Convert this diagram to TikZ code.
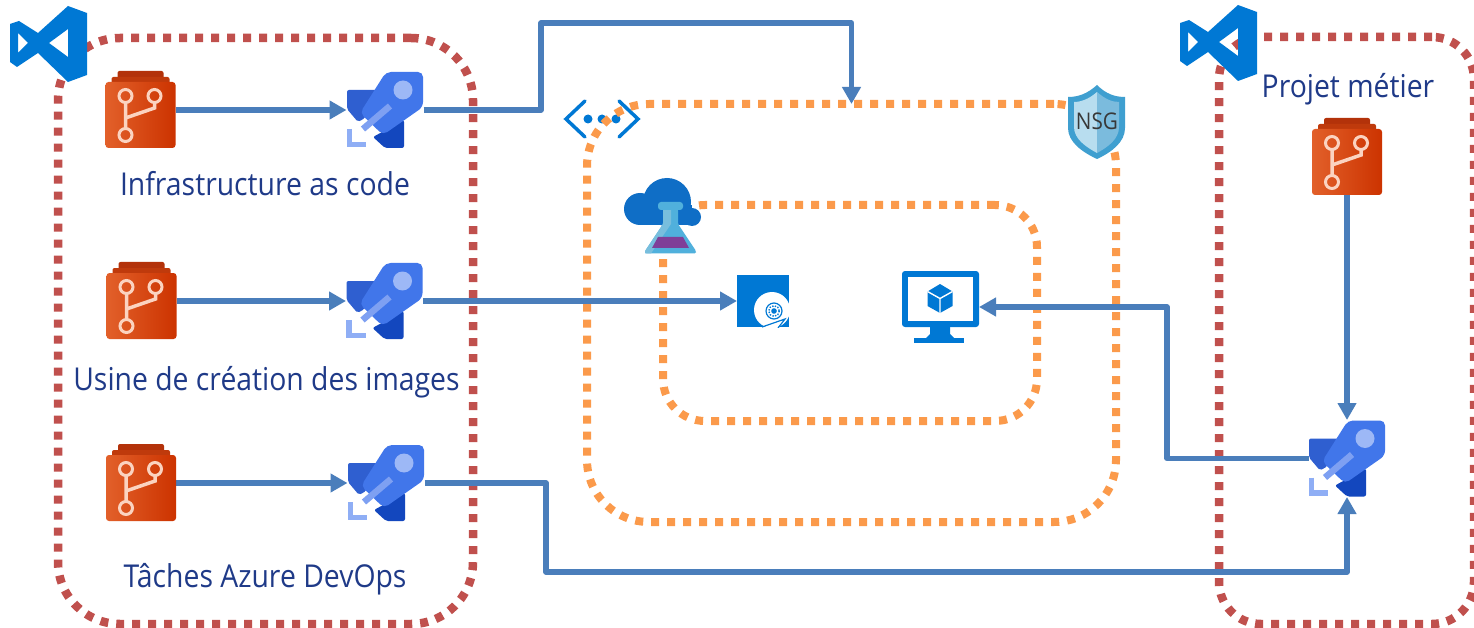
\documentclass[tikz,border=0pt]{standalone}
\usepackage{fontspec}
\setmainfont{Open Sans}[FakeStretch=0.9]
\usetikzlibrary{arrows.meta}
\definecolor{linkblue}{HTML}{4A7EBB}
\definecolor{redbox}{HTML}{C0504D}
\definecolor{orangebox}{HTML}{FB9A4B}
\definecolor{labelblue}{HTML}{1F3A88}
\definecolor{azure}{HTML}{0078D4}
\definecolor{repoA}{HTML}{B3320A}
\definecolor{repoB}{HTML}{BF3A0C}
\definecolor{repoL}{HTML}{E2602A}
\definecolor{repoR}{HTML}{CC3300}
\definecolor{repoI}{HTML}{FBD3C0}
\definecolor{finA}{HTML}{2F5FD0}
\definecolor{finB}{HTML}{1347BE}
\definecolor{hull}{HTML}{4176EA}
\definecolor{pale}{HTML}{8FAEF5}
\definecolor{stripe}{HTML}{7EA0F2}
\definecolor{porthole}{HTML}{9DB8F6}
\definecolor{cloud}{HTML}{0F6EC6}
\definecolor{flask}{HTML}{50B0DC}
\definecolor{flaskL}{HTML}{78BEDD}
\definecolor{liquid}{HTML}{7F3F98}
\definecolor{shieldO}{HTML}{3F9FD0}
\definecolor{shieldL}{HTML}{B8DDEF}
\definecolor{shieldR}{HTML}{7BBBDD}
\tikzset{
  x=1pt,y=-1pt,
  slot/.style={inner sep=0pt,outer sep=0pt,minimum width=#1},
  link/.style={draw=linkblue,line width=5.5pt,line join=round,-{Triangle[length=17pt,width=18pt]}},
  redzone/.style={draw=redbox,line width=8.5pt,dash pattern=on 8pt off 8pt,inner sep=0pt,outer sep=0pt},
  orangezone/.style={draw=orangebox,line width=8pt,dash pattern=on 8pt off 8pt,inner sep=0pt,outer sep=0pt},
  lbl/.style={text=labelblue,font=\fontsize{31.5}{36}\selectfont,inner sep=0pt,anchor=base},
  repoicon/.pic={
    \fill[rounded corners=2pt,fill=repoA] (-23,-39) rectangle (23,-20);
    \fill[rounded corners=2pt,fill=repoB] (-29,-33) rectangle (29,-20);
    \shade[rounded corners=3pt,left color=repoL,right color=repoR] (-35,-28) rectangle (35,38);
    \draw[draw=repoI,line width=3.5pt] (-15,-7) -- (-15,18) (14,-7) -- (14,-2) -- (-15,8);
    \draw[draw=repoI,line width=3pt] (-15,-14) circle (6.5) (14,-14) circle (6.5) (-15,25) circle (6.5);
  },
  rocketicon/.pic={
    \fill[fill=finA,rounded corners=2pt] (-38,-20) -- (-5,-20) -- (-20,8) -- (-27,12) -- (-38,-1) -- cycle;
    \fill[fill=finB,rounded corners=2pt] (19,10) -- (19,38) -- (0,38) -- (-12,27) -- cycle;
    \fill[fill=hull,rounded corners=5pt] (1,-38) -- (38,-38) -- (38,-3) -- (-2,25) -- (-25,3) -- cycle;
    \draw[draw=stripe,line width=6.5pt] (-22,19) -- (5,-4);
    \fill[fill=porthole] (18,-20) circle (9.5);
    \draw[draw=pale,line width=5.5pt] (-35.5,19) -- (-35.5,34.5) -- (-19,34.5);
  },
  vsicon/.pic={
    \fill[fill=azure,even odd rule] (68,6) -- (87,13) -- (87,75) -- (68,82) -- (38,53) -- (17,67) -- (10,62) -- (10,24) -- (19,21) -- (38,33) -- cycle
      (18,33) -- (28,43) -- (18,53) -- cycle
      (68,29) -- (49,43) -- (68,57) -- cycle;
  },
}
\begin{document}
\begin{tikzpicture}
\useasboundingbox (0,0) rectangle (1474,628);
\fill[white] (0,0) rectangle (1474,628);

% network icon (lies under the orange outline)
\draw[draw=azure,line width=3.5pt,line cap=round] (585,101) -- (566,119) -- (585,137) (619,101) -- (638,119) -- (619,137);
\fill[azure] (588,119) circle (4.5) (602,119) circle (4.5) (616,119) circle (4.5);

% zones
\node[redzone,rounded corners=62pt,minimum width=415pt,minimum height=586pt] (left) at (265.5,331) {};
\node[redzone,rounded corners=42pt,minimum width=255pt,minimum height=587pt] (right) at (1346.5,330.5) {};
\node[orangezone,rounded corners=62pt,minimum width=529pt,minimum height=418pt] (vnet) at (851.5,313) {};
\node[orangezone,rounded corners=42pt,minimum width=374pt,minimum height=216pt] (lab) at (850,313) {};

% slots for icons
\node[slot=70pt,minimum height=77pt] (r1) at (140.5,110) {};
\node[slot=70pt,minimum height=77pt] (r2) at (141.5,301) {};
\node[slot=70pt,minimum height=77pt] (r3) at (141,483) {};
\node[slot=70pt,minimum height=77pt] (r4) at (1347,157) {};
\node[slot=77pt,minimum height=77pt] (p1) at (385,110) {};
\node[slot=77pt,minimum height=77pt] (p2) at (384.5,301) {};
\node[slot=77pt,minimum height=77pt] (p3) at (386,483) {};
\node[slot=77pt,minimum height=77pt] (p4) at (1347,458.5) {};
\node[slot=52pt,minimum height=52pt] (img) at (763,301) {};
\node[slot=77pt,minimum height=71pt] (vm) at (940.5,307) {};

% connectors
\coordinate (a1) at (541,110);
\coordinate (a2) at (541,23);
\coordinate (a3) at (851.5,23);
\coordinate (b1) at (546,483);
\coordinate (b2) at (546,572);
\coordinate (b3) at (1347,572);
\coordinate (c1) at (1167,458.5);
\coordinate (c2) at (1167,307);
\draw[link] (r1.east) -- (p1.west);
\draw[link] (r2.east) -- (p2.west);
\draw[link] (r3.east) -- (p3.west);
\draw[link] (r4.south) -- (p4.north);
\draw[link] (p1.east) -- (a1) -- (a2) -- (a3) -- (vnet.north);
\draw[link] (p2.east) -- (img.west);
\draw[link] (p3.east) -- (b1) -- (b2) -- (b3) -- (p4.south);
\draw[link] (p4.west) -- (c1) -- (c2) -- (vm.east);

% icons
\pic at (r1) {repoicon};
\pic at (r2) {repoicon};
\pic at (r3) {repoicon};
\pic at (r4) {repoicon};
\pic at (p1) {rocketicon};
\pic at (p2) {rocketicon};
\pic at (p3) {rocketicon};
\pic at (p4) {rocketicon};
\pic at (0,0) {vsicon};
\pic at (1170,-1) {vsicon};

% image icon
\begin{scope}
\clip (737,275) rectangle (789,327);
\fill[azure] (737,275) rectangle (789,327);
\fill[white] (772,310) circle (18);
\draw[azure,line width=1.2pt] (774,311) circle (8);
\draw[azure,line width=1.4pt,dash pattern=on 1.4pt off 1.4pt] (774,311) circle (5.3);
\fill[azure] (774,311) circle (2.8);
\draw[azure,line width=1.2pt] (762,327) -- (785,319) -- (778,328);
\end{scope}

% VM icon
\fill[azure] (930,325) -- (950,325) -- (950,334) -- (954,338) -- (926,338) -- (930,334) -- cycle;
\fill[azure] (914,338) rectangle (964,343);
\fill[azure,rounded corners=3pt] (902,271) rectangle (979,327);
\fill[white] (908,277) rectangle (973,321);
\fill[azure] (940,284) -- (952.5,291.5) -- (952.5,306) -- (940,313) -- (927.5,306) -- (927.5,291.5) -- cycle;
\draw[white,line width=1.4pt] (927.5,291.5) -- (940,298.5) -- (952.5,291.5) (940,298.5) -- (940,313);

% lab icon
\fill[cloud] (640,209) circle (16) (667,202) circle (24) (692,217) circle (9);
\fill[cloud] (640,205) rectangle (692,225.5);
\fill[fill=flask,rounded corners=1.5pt] (663,209) -- (678,209) -- (678,224) -- (696,251) -- (696,253.5) -- (645,253.5) -- (645,251) -- (663,224) -- cycle;
\fill[fill=flaskL] (663,209) -- (671,209) -- (671,224) -- (651,253.5) -- (645,253.5) -- (645,251) -- (663,224) -- cycle;
\fill[fill=flask,rounded corners=3pt] (658,202) rectangle (683,210);
\fill[fill=liquid] (658,237) -- (683,237) -- (689,248) -- (652,248) -- cycle;

% NSG shield
\fill[fill=shieldO] (1097,85) .. controls (1087,94) and (1078,97) .. (1068,97) -- (1068,128) .. controls (1068,142) and (1082,152) .. (1097,159) .. controls (1112,152) and (1125,142) .. (1125,128) -- (1125,97) .. controls (1115,97) and (1106,94) .. (1097,85) -- cycle;
\fill[fill=shieldL] (1097,92) .. controls (1089,99) and (1081,102) .. (1074,102) -- (1074,127) .. controls (1074,139) and (1086,147) .. (1097,153) -- cycle;
\fill[fill=shieldR] (1097,92) .. controls (1105,99) and (1112,102) .. (1119,102) -- (1119,127) .. controls (1119,139) and (1108,147) .. (1097,153) -- cycle;
\node[inner sep=0pt,text=black!78,font=\fontsize{23}{26}\selectfont] (nsg) at (1097,121) {NSG};

% labels
\node[lbl] (t1) at (265,195.5) {Infrastructure as code};
\node[lbl] (t2) at (266.5,390) {Usine de création des images};
\node[lbl] (t3) at (265,587) {Tâches Azure DevOps};
\node[lbl] (t4) at (1348,97.5) {Projet métier};
\end{tikzpicture}
\end{document}
